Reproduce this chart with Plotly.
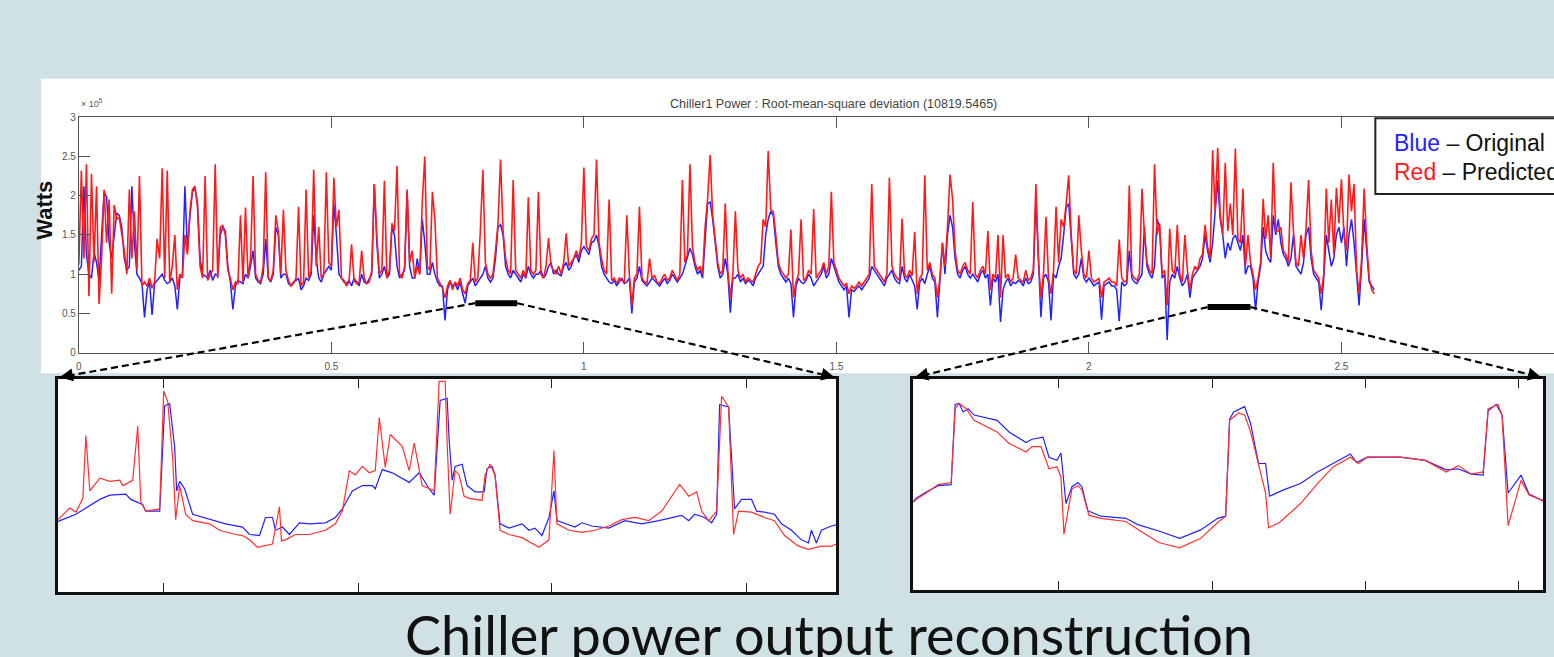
import plotly.graph_objects as go

W, H = 1554, 657
SLIDE_BG = "#cfe1e5"

# ---------------- main series (kW), one value every 0.005 x 10^4 samples ----------------
SAMPLE_STEP = 0.005
blue_kw = [
    105,110,212,125,100,95,128,115,92,150,205,198,140,120,150,178,175,160,120,105,
    110,212,140,100,95,88,45,80,90,48,88,92,95,100,92,88,90,95,85,55,
    95,100,212,130,175,205,210,190,120,100,98,95,105,92,100,98,150,160,155,110,
    90,55,85,92,90,88,100,95,110,130,95,90,88,100,145,95,90,100,160,150,
    95,100,100,88,85,90,92,95,80,85,95,92,100,175,120,95,90,100,105,110,
    105,190,150,100,95,90,88,92,85,95,90,85,100,90,88,95,100,215,140,95,
    100,110,95,100,160,150,110,95,100,105,205,110,95,95,120,100,170,140,100,100,
    115,100,90,85,85,41,80,90,85,88,80,90,75,63,85,90,95,85,90,95,
    100,110,95,90,95,120,160,163,150,110,100,95,105,100,95,90,100,95,110,100,
    95,100,100,105,95,100,110,115,100,105,100,98,110,115,105,110,120,125,115,130,
    135,130,125,140,142,150,135,110,100,95,90,88,92,85,90,95,88,90,95,50,
    90,95,110,92,88,85,90,95,92,88,85,90,95,88,92,100,95,90,95,100,
    110,120,133,125,110,100,105,95,150,190,192,170,140,110,95,100,120,100,51,95,
    95,100,90,95,88,92,90,85,95,100,105,110,150,170,180,175,140,110,100,95,
    90,95,88,45,85,95,90,88,92,100,95,85,90,95,100,110,95,100,120,110,
    100,90,85,80,85,45,80,78,82,85,80,85,90,95,110,105,100,95,90,85,
    95,100,105,95,90,88,110,95,90,100,92,85,55,90,95,88,100,110,95,90,
    45,90,140,100,150,175,160,120,100,95,105,110,100,95,100,95,90,100,105,95,
    100,60,95,90,100,39,80,90,95,85,90,88,92,90,85,95,88,90,100,196,
    110,45,95,100,90,41,100,95,110,120,150,185,190,140,100,95,100,120,95,90,
    95,90,85,88,90,42,85,88,90,85,85,80,40,90,85,88,130,95,90,88,
    95,100,160,110,100,95,110,170,160,95,100,16,90,100,95,110,95,85,90,100,
    70,95,100,105,110,120,150,130,115,140,175,220,170,150,120,140,130,145,150,140,
    130,150,100,110,110,95,54,90,110,160,130,120,115,175,150,170,140,125,120,110,
    120,150,110,105,100,115,150,160,120,100,95,90,54,95,150,130,110,120,150,160,
    140,160,110,150,170,140,100,60,110,170,130,90,85,80,
]
red_kw = [
    112,232,120,240,72,228,115,212,62,120,208,140,195,75,188,170,172,150,130,100,
    208,120,180,105,225,85,90,85,95,82,90,145,120,235,95,232,90,110,150,80,
    100,95,150,125,180,208,212,185,110,95,225,92,98,105,240,95,160,162,150,105,
    95,80,90,88,175,90,185,95,120,225,100,92,90,110,230,95,92,105,175,155,
    100,182,105,92,85,88,95,186,85,90,208,95,105,233,110,160,95,100,230,115,
    110,223,160,182,95,92,85,90,138,92,88,90,130,95,88,90,105,215,150,100,
    105,219,95,105,165,155,238,100,95,110,208,115,130,95,110,100,192,250,110,105,
    205,170,95,88,82,70,85,92,80,90,85,95,80,75,88,92,140,90,95,155,
    233,115,100,95,100,130,165,246,155,120,105,100,220,105,100,95,105,95,198,105,
    100,105,205,100,95,110,146,110,105,100,110,100,115,152,110,115,120,130,120,140,
    236,135,130,145,150,246,140,120,105,100,195,92,95,88,95,92,90,175,100,60,
    95,100,186,95,90,88,120,95,98,90,88,95,100,92,95,105,98,92,100,220,
    115,125,240,135,115,105,110,100,160,195,252,175,145,115,100,105,190,105,70,100,
    180,105,95,100,90,95,92,90,100,110,115,170,160,257,182,180,150,115,105,100,
    95,100,157,70,90,100,170,92,95,105,100,183,95,100,105,115,100,110,205,115,
    105,95,90,85,88,75,85,82,85,90,85,90,95,100,215,110,105,100,95,90,
    100,223,110,100,95,92,171,100,95,105,98,154,75,95,100,226,105,115,100,95,
    70,95,140,110,160,227,196,130,105,100,110,115,105,100,192,100,95,105,110,100,
    155,80,100,95,150,70,150,95,100,90,95,125,95,92,90,105,92,95,105,215,
    120,70,100,173,95,75,105,186,115,170,160,190,226,150,105,100,175,130,100,95,
    130,95,90,92,95,70,90,92,95,90,90,85,144,95,90,92,213,100,95,92,
    100,209,150,115,105,100,240,150,165,100,105,60,158,105,100,163,100,90,150,105,
    80,100,110,105,120,125,163,135,120,258,180,261,175,150,242,155,190,150,260,145,
    140,209,110,150,115,100,80,95,115,196,145,175,120,242,155,155,160,130,125,115,
    217,155,115,110,150,120,160,220,130,105,100,95,75,100,209,140,195,125,210,165,
    221,150,130,227,180,215,105,75,120,209,140,95,80,75,
]

# ---------------- zoomed windows (x = samples from window start, y in 10^5 W) ----------------
inset1_blue_x = [0, 2, 18, 28, 42, 52, 68, 73, 85, 88,
                 102, 107, 112, 117, 119, 122, 127, 135, 152, 168,
                 185, 192, 202, 208, 215, 218, 225, 232, 242, 252,
                 268, 278, 285, 295, 305, 315, 318, 325, 335, 345,
                 352, 362, 372, 377, 383, 390, 392, 395, 398, 405,
                 410, 418, 427, 430, 435, 438, 443, 452, 465, 472,
                 478, 485, 492, 497, 500, 518, 525, 535, 552, 568,
                 585, 602, 618, 625, 632, 638, 648, 655, 660, 663,
                 672, 675, 678, 685, 695, 700, 708, 718, 725, 735,
                 745, 752, 755, 760, 765, 775, 780]
inset1_blue = [1.16, 1.17, 1.23, 1.29, 1.37, 1.41, 1.42, 1.37, 1.32, 1.26,
               1.26, 2.25, 2.27, 1.86, 1.45, 1.54, 1.47, 1.23, 1.18, 1.14,
               1.11, 1.04, 1.03, 1.20, 1.20, 1.08, 1.11, 1.04, 1.15, 1.14,
               1.15, 1.20, 1.28, 1.45, 1.50, 1.50, 1.47, 1.65, 1.62, 1.57,
               1.53, 1.62, 1.47, 1.41, 2.30, 2.32, 1.93, 1.55, 1.68, 1.70,
               1.50, 1.44, 1.44, 1.66, 1.68, 1.60, 1.14, 1.10, 1.14, 1.08,
               1.10, 1.03, 1.20, 1.45, 1.17, 1.11, 1.15, 1.12, 1.10, 1.17,
               1.14, 1.17, 1.20, 1.22, 1.17, 1.23, 1.20, 1.15, 1.23, 2.26,
               2.24, 1.77, 1.28, 1.37, 1.37, 1.26, 1.25, 1.23, 1.14, 1.08,
               0.99, 0.96, 1.08, 0.96, 1.08, 1.12, 1.13]
inset1_red_x = [0, 12, 18, 25, 28, 32, 42, 52, 62, 65,
                75, 80, 83, 88, 102, 106, 110, 115, 118, 122,
                128, 135, 152, 162, 178, 185, 192, 200, 215, 222,
                224, 228, 238, 252, 268, 278, 285, 292, 298, 305,
                312, 318, 322, 328, 333, 345, 352, 357, 365, 377,
                382, 388, 390, 393, 398, 402, 407, 412, 425, 428,
                433, 438, 443, 452, 465, 482, 492, 497, 500, 512,
                525, 538, 552, 565, 578, 592, 605, 615, 623, 632,
                640, 645, 652, 660, 665, 672, 675, 677, 682, 695,
                708, 718, 728, 742, 752, 765, 775, 780]
inset1_red = [1.18, 1.29, 1.25, 1.38, 1.97, 1.45, 1.57, 1.54, 1.55, 1.50,
              1.55, 2.06, 1.35, 1.26, 1.28, 2.39, 2.29, 1.76, 1.18, 1.50,
              1.23, 1.17, 1.14, 1.08, 1.04, 1.03, 0.99, 0.92, 0.95, 1.30,
              0.98, 0.99, 1.04, 1.04, 1.08, 1.14, 1.26, 1.64, 1.60, 1.68,
              1.62, 1.64, 2.14, 1.67, 1.98, 1.87, 1.64, 1.90, 1.50, 1.45,
              2.48, 2.48, 1.90, 1.23, 1.64, 1.60, 1.40, 1.38, 1.36, 1.60,
              1.70, 1.60, 1.08, 1.04, 1.01, 0.92, 0.99, 1.83, 1.14, 1.08,
              1.06, 1.08, 1.12, 1.18, 1.20, 1.17, 1.26, 1.40, 1.51, 1.40,
              1.44, 1.26, 1.17, 1.26, 2.34, 2.24, 1.50, 1.04, 1.26, 1.25,
              1.20, 1.17, 1.03, 0.93, 0.90, 0.93, 0.93, 0.95]

inset2_blue_x = [0, 3, 13, 25, 38, 42, 46, 50, 55, 61,
                 84, 96, 113, 119, 130, 136, 144, 148, 153, 159,
                 165, 169, 175, 188, 213, 225, 246, 267, 288, 305,
                 313, 317, 321, 332, 338, 346, 353, 357, 371, 388,
                 405, 421, 438, 444, 455, 488, 513, 534, 546, 559,
                 571, 576, 584, 590, 596, 609, 617, 628, 631]
inset2_blue = [1.34, 1.37, 1.43, 1.49, 1.50, 2.26, 2.27, 2.19, 2.22, 2.16,
               2.11, 2.00, 1.90, 1.93, 1.95, 1.76, 1.73, 1.80, 1.32, 1.48,
               1.52, 1.48, 1.25, 1.20, 1.18, 1.12, 1.06, 0.99, 1.07, 1.18,
               1.20, 2.12, 2.19, 2.24, 2.08, 1.70, 1.70, 1.39, 1.45, 1.51,
               1.62, 1.70, 1.79, 1.71, 1.76, 1.76, 1.73, 1.64, 1.65, 1.60,
               1.59, 2.20, 2.26, 2.16, 1.42, 1.59, 1.41, 1.36, 1.35]
inset2_red_x = [0, 3, 13, 25, 38, 42, 46, 53, 61, 84,
                96, 113, 119, 128, 136, 144, 148, 151, 159, 165,
                169, 176, 188, 213, 226, 246, 267, 288, 305, 313,
                317, 326, 332, 338, 346, 353, 356, 367, 388, 405,
                421, 438, 446, 455, 488, 513, 534, 546, 559, 571,
                576, 586, 590, 596, 609, 617, 628, 631]
inset2_red = [1.33, 1.36, 1.42, 1.50, 1.52, 2.22, 2.27, 2.22, 2.11, 2.00,
              1.89, 1.81, 1.86, 1.86, 1.65, 1.67, 1.57, 1.03, 1.46, 1.49,
              1.45, 1.21, 1.18, 1.15, 1.07, 0.95, 0.90, 0.99, 1.14, 1.20,
              2.11, 2.18, 2.16, 2.00, 1.69, 1.42, 1.09, 1.14, 1.32, 1.51,
              1.67, 1.76, 1.70, 1.76, 1.76, 1.73, 1.62, 1.68, 1.60, 1.62,
              2.22, 2.26, 2.15, 1.11, 1.54, 1.40, 1.36, 1.34]

# ---------------- ticks / labels ----------------
main_xticks = [0, 0.5, 1, 1.5, 2, 2.5]
main_xticktext = ["0", "0.5", "1", "1.5", "2", "2.5"]
main_yticks = [0, 50000, 100000, 150000, 200000, 250000, 300000]
main_yticktext = ["0", "0.5", "1", "1.5", "2", "2.5", "3"]
inset1_ticks = [106, 301, 495, 690]
inset2_ticks = [146, 300, 453, 606]
zoom_windows = [(0.785, 0.868), (2.235, 2.320)]
zoom_bar_w = [63000, 58000]

TITLE = "Chiller1 Power : Root-mean-square deviation (10819.5465)"
SLIDE_CAPTION = "Chiller power output reconstruction"

# ---------------- geometry (pixels) ----------------
MX0, MX1, MYT, MYB = 76, W, 114, 353
XR = [0, (W - MX0) / 506.0]
YR = [0, 300000]
INSETS = [(55, 835, 380, 596, [0, 780]), (912, 1543, 380, 594, [0, 631])]

def px(x):
    return x / W

def py(y):
    return 1 - y / H

def main_to_pix(x, y):
    X = MX0 + (x - XR[0]) / (XR[1] - XR[0]) * (MX1 - MX0)
    Y = MYB - (y - YR[0]) / (YR[1] - YR[0]) * (MYB - MYT)
    return X, Y

FONT = "Liberation Sans, Arial, sans-serif"
BLUE = "#2222ff"
RED = "#ff1a1a"

fig = go.Figure()

xb = [i * SAMPLE_STEP for i in range(len(blue_kw))]
xr = [i * SAMPLE_STEP for i in range(len(red_kw))]
fig.add_trace(go.Scatter(x=xb, y=[v * 1000 for v in blue_kw], mode="lines",
                         line=dict(color=BLUE, width=1.5), xaxis="x", yaxis="y"))
fig.add_trace(go.Scatter(x=xr, y=[v * 1000 for v in red_kw], mode="lines",
                         line=dict(color=RED, width=1.6), xaxis="x", yaxis="y"))

fig.add_trace(go.Scatter(x=inset1_blue_x, y=inset1_blue, mode="lines",
                         line=dict(color=BLUE, width=1.2), xaxis="x2", yaxis="y2"))
fig.add_trace(go.Scatter(x=inset1_red_x, y=inset1_red, mode="lines",
                         line=dict(color="#ff3030", width=1.2), xaxis="x2", yaxis="y2"))
fig.add_trace(go.Scatter(x=inset2_blue_x, y=inset2_blue, mode="lines",
                         line=dict(color=BLUE, width=1.2), xaxis="x3", yaxis="y3"))
fig.add_trace(go.Scatter(x=inset2_red_x, y=inset2_red, mode="lines",
                         line=dict(color="#ff3030", width=1.2), xaxis="x3", yaxis="y3"))

axis_common = dict(showgrid=False, zeroline=False, fixedrange=True)
layout = dict(
    width=W, height=H, margin=dict(l=0, r=0, t=0, b=0),
    paper_bgcolor=SLIDE_BG, plot_bgcolor="white", showlegend=False,
    xaxis=dict(domain=[px(MX0), 1], range=XR, anchor="y", tickvals=main_xticks,
               ticktext=main_xticktext, ticks="inside", ticklen=11, tickcolor="#555",
               showline=True, linecolor="#555", linewidth=1, mirror="ticks",
               ticklabelstandoff=4,
               tickfont=dict(family=FONT, size=10, color="#555"), **axis_common),
    yaxis=dict(domain=[py(MYB), py(MYT)], range=YR, anchor="x", tickvals=main_yticks,
               ticktext=main_yticktext, ticks="inside", ticklen=11, tickcolor="#555",
               showline=True, linecolor="#555", linewidth=1, mirror=False,
               tickfont=dict(family=FONT, size=10, color="#555"), **axis_common),
)
for k, (x0, x1, yt, yb, rng) in enumerate(INSETS):
    ticks = inset1_ticks if k == 0 else inset2_ticks
    layout[f"xaxis{k + 2}"] = dict(domain=[px(x0), px(x1)], range=rng, anchor=f"y{k + 2}",
                                  tickvals=ticks, showticklabels=False, ticks="inside",
                                  ticklen=9, tickcolor="#222", showline=True,
                                  linecolor="#111", linewidth=3, mirror="ticks", **axis_common)
    layout[f"yaxis{k + 2}"] = dict(domain=[py(yb), py(yt)], range=[0.5, 2.5], anchor=f"x{k + 2}",
                                  showticklabels=False, ticks="", showline=True,
                                  linecolor="#111", linewidth=3, mirror=True, **axis_common)
fig.update_layout(**layout)

shapes = []
# white panel behind the main chart
shapes.append(dict(type="rect", xref="paper", yref="paper", x0=px(38), x1=1.01,
                   y0=py(374), y1=py(75), fillcolor="white", line=dict(width=0), layer="below"))
annotations = []
for k, ((z0, z1), bw) in enumerate(zip(zoom_windows, zoom_bar_w)):
    x0, x1, yt, yb, rng = INSETS[k]
    shapes.append(dict(type="line", xref="x", yref="y", x0=z0, x1=z1, y0=bw, y1=bw,
                       line=dict(color="black", width=6)))
    for zx, cx in ((z0, x0 + 2), (z1, x1 - 2)):
        sx, sy = main_to_pix(zx, bw)
        ty = yt - 2
        shapes.append(dict(type="line", xref="paper", yref="paper", x0=px(sx), y0=py(sy),
                           x1=px(cx), y1=py(ty),
                           line=dict(color="black", width=2.2, dash="7px,4px")))
        dx, dy = sx - cx, sy - ty
        n = (dx * dx + dy * dy) ** 0.5
        annotations.append(dict(x=px(cx), y=py(ty), xref="paper", yref="paper", text="",
                                showarrow=True, arrowhead=2, arrowsize=1.3, arrowwidth=2,
                                arrowcolor="black", ax=dx / n * 14, ay=dy / n * 14,
                                axref="pixel", ayref="pixel", standoff=0))

# legend box
shapes.append(dict(type="rect", xref="paper", yref="paper", x0=px(1375), x1=px(1575),
                   y0=py(192), y1=py(115), fillcolor="white", line=dict(color="#222", width=2)))
annotations += [
    dict(x=px(1392), y=py(140), xref="paper", yref="paper", xanchor="left", yanchor="middle",
         showarrow=False, text=f"<span style='color:{BLUE}'>Blue</span> – Original",
         font=dict(family=FONT, size=23, color="#111")),
    dict(x=px(1392), y=py(170), xref="paper", yref="paper", xanchor="left", yanchor="middle",
         showarrow=False, text=f"<span style='color:{RED}'>Red</span> – Predicted",
         font=dict(family=FONT, size=23, color="#111")),
    dict(x=px(832), y=py(101), xref="paper", yref="paper", xanchor="center", yanchor="middle",
         showarrow=False, text=TITLE, font=dict(family=FONT, size=12.5, color="#444")),
    dict(x=px(76), y=py(100), xref="paper", yref="paper", xanchor="left", yanchor="middle",
         showarrow=False, text="× 10<sup>5</sup>", font=dict(family=FONT, size=9, color="#555")),
    dict(x=px(42), y=py(208), xref="paper", yref="paper", xanchor="center", yanchor="middle",
         showarrow=False, text="<b>Watts</b>", textangle=-90,
         font=dict(family=FONT, size=22, color="#111")),
    dict(x=px(828), y=py(674), xref="paper", yref="paper", xanchor="center", yanchor="bottom",
         showarrow=False, text=SLIDE_CAPTION,
         font=dict(family="Lato, Open Sans, sans-serif", size=54, color="#111")),
]
fig.update_layout(shapes=shapes, annotations=annotations)
fig.write_html("out.html")
